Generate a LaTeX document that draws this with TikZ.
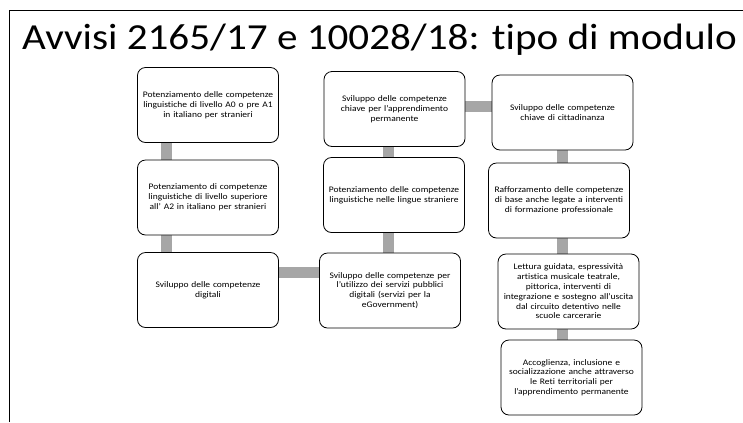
\documentclass[tikz,border=0pt]{standalone}
\usepackage{fontspec}
\setmainfont{Carlito}[FakeStretch=1.12,Ligatures=NoCommon]
\usetikzlibrary{backgrounds}
\begin{document}
\begin{tikzpicture}[x=1bp,y=-1bp,
  box/.style={draw=black,line width=0.8bp,rounded corners=8bp,fill=white,
    minimum width=141bp,minimum height=75bp,align=center,inner sep=2bp,
    font=\fontsize{8.5bp}{9.8bp}\selectfont,text width=137bp},
  link/.style={draw=black!35,line width=11bp}]
\useasboundingbox (0,0) rectangle (743,422);
\draw[line width=1bp] (9,422) -- (9,10) -- (743,10);
\node[anchor=base west,font=\fontsize{36.7bp}{40bp}\selectfont,inner sep=0] (title) at (22,49) {Avvisi 2165/17 e 10028/18: tipo di modulo};
\node[box] (b1) at (208,105) {Potenziamento delle competenze\\linguistiche di livello A0 o pre A1\\in italiano per stranieri};
\node[box] (b2) at (208,197.5) {Potenziamento di competenze\\linguistiche di livello superiore\\all’ A2 in italiano per stranieri};
\node[box] (b3) at (208,290) {Sviluppo delle competenze\\digitali};
\node[box] (b4) at (394.5,109) {Sviluppo delle competenze\\chiave per l’apprendimento\\permanente};
\node[box] (b5) at (394,195) {Potenziamento delle competenze\\linguistiche nelle lingue straniere};
\node[box] (b6) at (390,290.5) {Sviluppo delle competenze per\\l’utilizzo dei servizi pubblici\\digitali (servizi per la\\eGovernment)};
\node[box] (b7) at (562.5,112.5) {Sviluppo delle competenze\\chiave di cittadinanza};
\node[box] (b8) at (559,200.5) {Rafforzamento delle competenze\\di base anche legate a interventi\\di formazione professionale};
\node[box] (b9) at (568.5,291.5) {Lettura guidata, espressività\\artistica musicale teatrale,\\pittorica, interventi di\\integrazione e sostegno all’uscita\\dal circuito detentivo nelle\\scuole carcerarie};
\node[box] (b10) at (571.5,377.5) {Accoglienza, inclusione e\\socializzazione anche attraverso\\le Reti territoriali per\\l’apprendimento permanente};
\begin{scope}[on background layer]
\path[link] (166.5,0 |- b1.south) -- (166.5,0 |- b2.north);
\path[link] (166.5,0 |- b2.south) -- (166.5,0 |- b3.north);
\path[link] (b3.east |- 0,272) -- (b6.west |- 0,272);
\path[link] (388,0 |- b4.south) -- (388,0 |- b5.north);
\path[link] (388,0 |- b5.south) -- (388,0 |- b6.north);
\path[link] (b4.east |- 0,106.5) -- (b7.west |- 0,106.5);
\path[link] (562.5,0 |- b7.south) -- (562.5,0 |- b8.north);
\path[link] (562.5,0 |- b8.south) -- (562.5,0 |- b9.north);
\path[link] (562.5,0 |- b9.south) -- (562.5,0 |- b10.north);
\end{scope}
\end{tikzpicture}
\end{document}
